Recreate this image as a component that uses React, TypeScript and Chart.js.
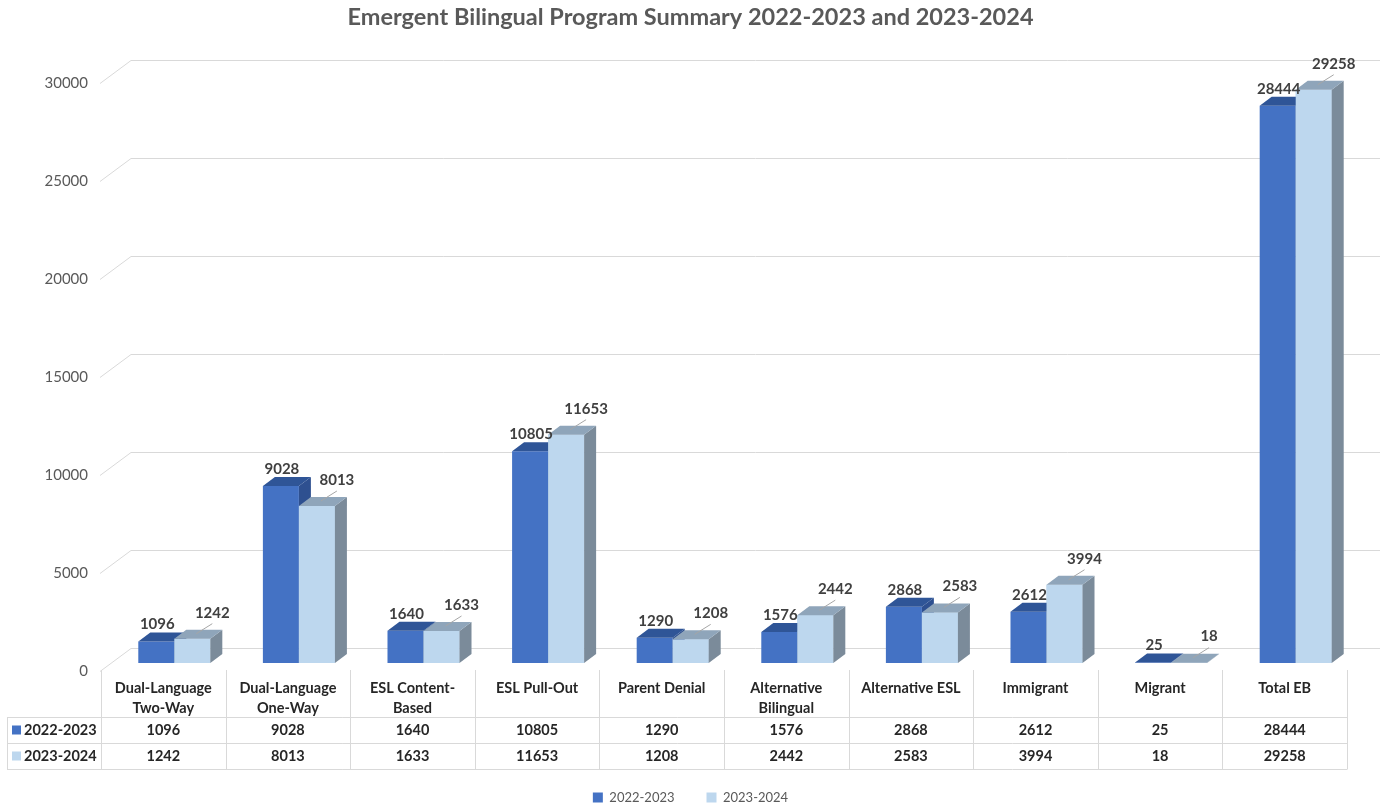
import React, { useEffect, useRef } from 'react';
import { Chart, registerables } from 'chart.js';

Chart.register(...registerables);

// ---------- data ----------
const chartTitle = 'Emergent Bilingual Program Summary 2022-2023 and 2023-2024';
const categories: string[][] = [
  ['Dual-Language', 'Two-Way'],
  ['Dual-Language', 'One-Way'],
  ['ESL Content-', 'Based'],
  ['ESL Pull-Out'],
  ['Parent Denial'],
  ['Alternative', 'Bilingual'],
  ['Alternative ESL'],
  ['Immigrant'],
  ['Migrant'],
  ['Total EB'],
];
const seriesNames = ['2022-2023', '2023-2024'];
const values2022 = [1096, 9028, 1640, 10805, 1290, 1576, 2868, 2612, 25, 28444];
const values2023 = [1242, 8013, 1633, 11653, 1208, 2442, 2583, 3994, 18, 29258];
const yMin = 0;
const yMax = 30000;
const yStep = 5000;

// ---------- style ----------
const FONT = "Lato, 'Open Sans', sans-serif";
const FRONT = ['#4472C4', '#BDD7EE'];
const TOP = ['#2F5597', '#8FA5BA'];
const SIDE = ['#2E5090', '#7B8B9A'];
const GRID = '#D9D9D9';
const TEXT = '#595959';
const DARK = '#262626';
const DX = 12; // bar depth
const DY = 9;
const PLANE_SHIFT = 11; // table/front plane vs bar plane

function poly(ctx: CanvasRenderingContext2D, pts: number[][], color: string) {
  ctx.beginPath();
  ctx.moveTo(pts[0][0], pts[0][1]);
  for (let i = 1; i < pts.length; i++) ctx.lineTo(pts[i][0], pts[i][1]);
  ctx.closePath();
  ctx.fillStyle = color;
  ctx.fill();
}

const gridPlugin = {
  id: 'grid3d',
  beforeDatasetsDraw(chart: any) {
    const ctx: CanvasRenderingContext2D = chart.ctx;
    const ys = chart.scales.y;
    const area = chart.chartArea;
    ctx.save();
    ctx.strokeStyle = GRID;
    ctx.lineWidth = 1;
    ys.ticks.forEach((t: any) => {
      const y = Math.round(ys.getPixelForValue(t.value)) + 0.5;
      ctx.beginPath();
      ctx.moveTo(area.left - 12, y + 8);
      ctx.lineTo(area.left + 19, y - 15);
      ctx.lineTo(chart.width - 1, y - 15);
      ctx.stroke();
    });
    ctx.restore();
  },
};

const barPlugin = {
  id: 'bar3d',
  afterDatasetsDraw(chart: any) {
    const ctx: CanvasRenderingContext2D = chart.ctx;
    const metas = [chart.getDatasetMeta(0), chart.getDatasetMeta(1)];
    ctx.save();
    for (let i = 0; i < categories.length; i++) {
      metas.forEach((meta: any, d: number) => {
        const el = meta.data[i];
        const { x, y, base, width } = el.getProps(['x', 'y', 'base', 'width'], true);
        const l = x - width / 2;
        const r = x + width / 2;
        if (d === 1) {
          ctx.fillStyle = FRONT[1];
          ctx.fillRect(l, y, width, base - y);
        }
        poly(ctx, [[r, y], [r + DX, y - DY], [r + DX, base - DY], [r, base]], SIDE[d]);
        poly(ctx, [[l, y], [r, y], [r + DX, y - DY], [l + DX, y - DY]], TOP[d]);
      });
    }
    // data labels
    ctx.font = `bold 15px ${FONT}`;
    ctx.fillStyle = '#404040';
    ctx.textAlign = 'center';
    ctx.textBaseline = 'middle';
    for (let i = 0; i < categories.length; i++) {
      const e0 = metas[0].data[i].getProps(['x', 'y'], true);
      ctx.fillText(String(values2022[i]), e0.x + 1, e0.y - 17);
      const e1 = metas[1].data[i].getProps(['x', 'y'], true);
      const lx = e1.x + 20;
      const ly = e1.y - 26;
      ctx.strokeStyle = '#A6A6A6';
      ctx.lineWidth = 1;
      ctx.beginPath();
      ctx.moveTo(e1.x + 4, e1.y - 5);
      ctx.lineTo(lx, ly + 11);
      ctx.stroke();
      ctx.fillText(String(values2023[i]), lx, ly);
    }
    ctx.restore();
  },
};

const tablePlugin = {
  id: 'dataTable',
  afterDraw(chart: any) {
    const ctx: CanvasRenderingContext2D = chart.ctx;
    const xs = chart.scales.x;
    const area = chart.chartArea;
    const n = categories.length;
    const catW = (area.right - area.left) / n;
    const colLeft = (i: number) => xs.getPixelForValue(i) - catW / 2 - PLANE_SHIFT;
    const top = area.bottom + 7;
    const row1 = area.bottom + 54;
    const row2 = area.bottom + 80;
    const bottom = area.bottom + 106;
    const left = 7;
    ctx.save();
    ctx.strokeStyle = GRID;
    ctx.lineWidth = 1;
    ctx.beginPath();
    for (let i = 0; i <= n; i++) {
      const x = Math.round(colLeft(i)) + 0.5;
      ctx.moveTo(x, top);
      ctx.lineTo(x, bottom);
    }
    [row1, row2, bottom].forEach((y) => {
      ctx.moveTo(left, Math.round(y) + 0.5);
      ctx.lineTo(Math.round(colLeft(n)) + 0.5, Math.round(y) + 0.5);
    });
    ctx.moveTo(left + 0.5, row1);
    ctx.lineTo(left + 0.5, bottom);
    ctx.stroke();

    ctx.fillStyle = DARK;
    ctx.font = `bold 14.5px ${FONT}`;
    ctx.textAlign = 'center';
    ctx.textBaseline = 'middle';
    for (let i = 0; i < n; i++) {
      const cx = colLeft(i) + catW / 2;
      categories[i].forEach((line, k) => {
        ctx.fillText(line, cx, top + 18 + k * 20);
      });
      ctx.fillText(String(values2022[i]), cx, (row1 + row2) / 2);
      ctx.fillText(String(values2023[i]), cx, (row2 + bottom) / 2);
    }
    // row headers
    const rowYs = [(row1 + row2) / 2, (row2 + bottom) / 2];
    seriesNames.forEach((name, d) => {
      ctx.fillStyle = FRONT[d];
      ctx.fillRect(12, rowYs[d] - 4.5, 9, 9);
      ctx.fillStyle = DARK;
      ctx.textAlign = 'left';
      ctx.fillText(name, 24, rowYs[d]);
    });
    ctx.restore();
  },
};

export default function App() {
  const ref = useRef<HTMLCanvasElement | null>(null);

  useEffect(() => {
    if (!ref.current) return;
    const chart = new Chart(ref.current, {
      type: 'bar',
      data: {
        labels: categories,
        datasets: [
          { label: seriesNames[0], data: values2022, backgroundColor: FRONT[0], borderWidth: 0, yAxisID: 'y' },
          { label: seriesNames[1], data: values2023, backgroundColor: FRONT[1], borderWidth: 0, yAxisID: 'y' },
        ],
      },
      options: {
        responsive: false,
        animation: false,
        devicePixelRatio: 1,
        layout: { padding: 0 },
        datasets: { bar: { categoryPercentage: 0.578, barPercentage: 1 } },
        plugins: {
          title: {
            display: true,
            text: chartTitle,
            color: TEXT,
            font: { family: FONT, size: 23.5, weight: 'bold' },
            padding: { top: 3, bottom: 44 },
          },
          legend: {
            position: 'bottom',
            maxHeight: 49,
            labels: {
              boxWidth: 10,
              boxHeight: 10,
              padding: 32,
              color: TEXT,
              font: { family: FONT, size: 13 },
            },
          },
          tooltip: { enabled: false },
        },
        scales: {
          x: {
            display: true,
            grid: { display: false },
            border: { display: false },
            ticks: { display: false },
            afterFit: (s: any) => {
              s.height = 96;
            },
          },
          y: {
            min: yMin,
            max: yMax,
            grid: { display: false, drawTicks: false },
            border: { display: false },
            ticks: {
              stepSize: yStep,
              padding: 24,
              labelOffset: 8,
              color: TEXT,
              font: { family: FONT, size: 15 },
              callback: (v: any) => String(v),
            },
            afterFit: (s: any) => {
              s.width = 112;
            },
          },
          yRight: {
            type: 'linear',
            position: 'right',
            display: true,
            grid: { display: false, drawTicks: false },
            border: { display: false },
            ticks: { display: false },
            afterFit: (s: any) => {
              s.width = 23;
            },
          },
        },
      },
      plugins: [gridPlugin, barPlugin, tablePlugin],
    });
    return () => chart.destroy();
  }, []);

  return (
    <div style={{ position: 'fixed', left: 0, top: 0, width: 1381, height: 808, background: '#fff' }}>
      <canvas ref={ref} width={1381} height={808} style={{ display: 'block' }} />
    </div>
  );
}
